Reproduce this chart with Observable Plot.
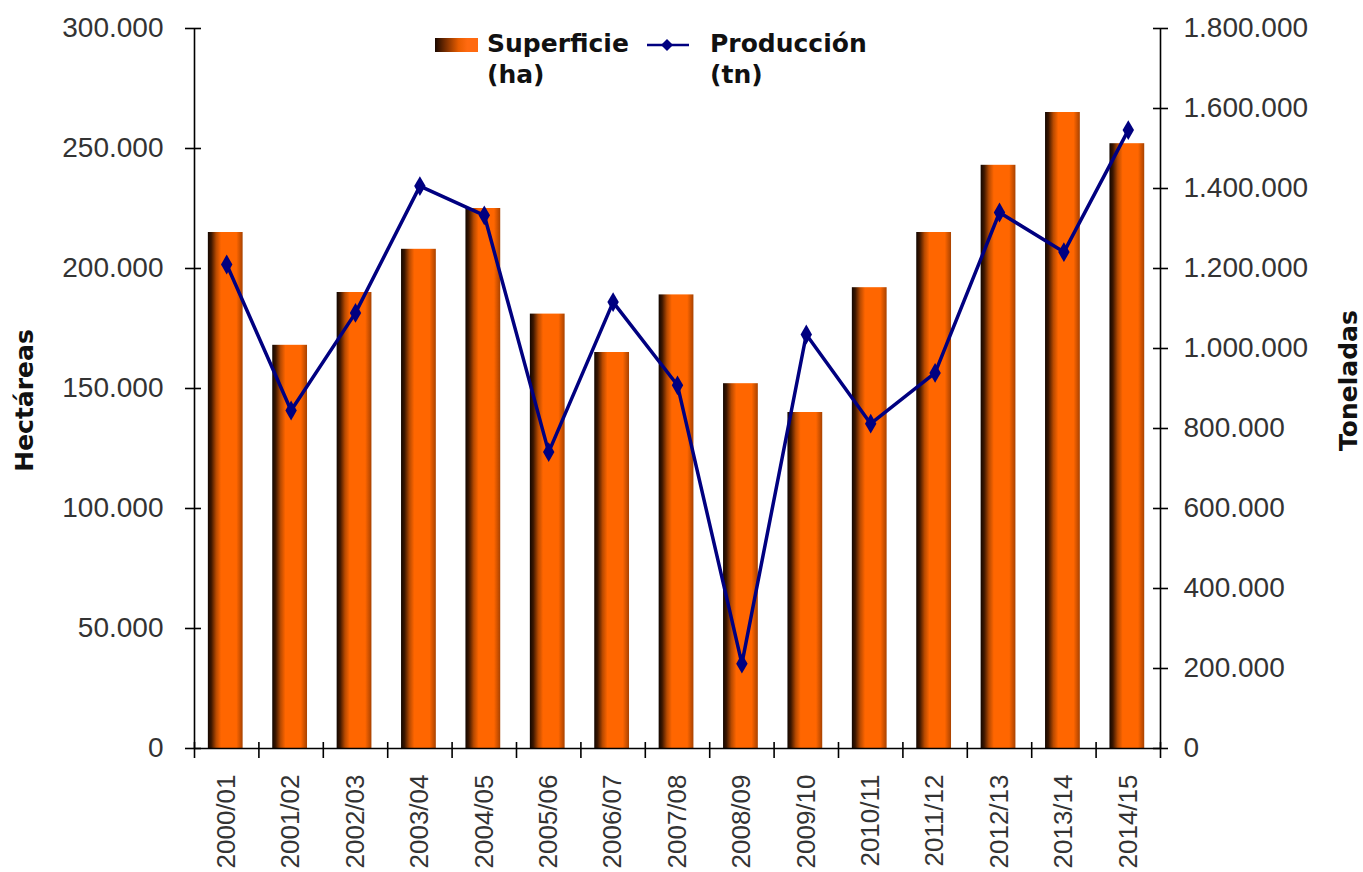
<!DOCTYPE html>
<html>
<head>
<meta charset="utf-8">
<script src="https://cdn.jsdelivr.net/npm/d3@7"></script>
<script src="https://cdn.jsdelivr.net/npm/@observablehq/plot@0.6"></script>
<style>
  html, body { margin: 0; padding: 0; background: #fff; }
  #wrap { position: relative; width: 1363px; height: 872px; overflow: hidden; }
  .legend { position: absolute; font-family: "DejaVu Sans", sans-serif; font-weight: bold; font-size: 25px; line-height: 31px; color: #111; }
</style>
</head>
<body>
<div id="wrap"></div>
<script>
const categories = ["2000/01","2001/02","2002/03","2003/04","2004/05","2005/06","2006/07","2007/08","2008/09","2009/10","2010/11","2011/12","2012/13","2013/14","2014/15"];
const superficie = [215000,168000,190000,208000,225000,181000,165000,189000,152000,140000,192000,215000,243000,265000,252000];
const produccion = [1210000,845000,1089000,1406000,1333000,741000,1116000,908000,212000,1035000,812000,939000,1340000,1241000,1546000];
const haTicks = [0,50000,100000,150000,200000,250000,300000];
const tnTicks = [0,200000,400000,600000,800000,1000000,1200000,1400000,1600000,1800000];
const ratio = 1800000 / 300000;

const data = categories.map((c, i) => ({i, cat: c, ha: superficie[i], tn: produccion[i]}));
const fmt = d3.formatLocale({decimal: ",", thousands: ".", grouping: [3], currency: ["", ""]}).format(",d");
const boundaries = d3.range(categories.length + 1);
const centers = categories.map((c, i) => i + 0.5);
const tickFont = "Liberation Sans, Arial, sans-serif";

const chart = Plot.plot({
  width: 1363,
  height: 872,
  marginLeft: 194,
  marginRight: 203,
  marginTop: 28,
  marginBottom: 124,
  x: {type: "linear", domain: [0, categories.length], axis: null},
  y: {domain: [0, 300000], axis: null},
  style: {fontFamily: tickFont, fontSize: "28px", color: "#333", background: "white", overflow: "visible"},
  marks: [
    Plot.rectY(data, {x1: d => d.i + 0.215, x2: d => d.i + 0.755, y: "ha", fill: "url(#barGrad)"}),
    Plot.line(data, {x: d => d.i + 0.5, y: d => d.tn / ratio, stroke: "#000080", strokeWidth: 3.5}),
    Plot.dot(data, {x: d => d.i + 0.5, y: d => d.tn / ratio, symbol: "diamond", fill: "#000080", r: 6}),
    // axis lines
    Plot.ruleY([0], {stroke: "black", strokeWidth: 1.6}),
    Plot.ruleX([0], {stroke: "black", strokeWidth: 1.6}),
    Plot.ruleX([categories.length], {stroke: "black", strokeWidth: 1.6}),
    // left axis
    Plot.axisY(haTicks, {anchor: "left", tickSize: 9, tickFormat: () => "", stroke: "black", strokeWidth: 1.6, label: null}),
    Plot.axisY(haTicks, {anchor: "left", tickSize: -7, tickFormat: () => "", stroke: "black", strokeWidth: 1.6, label: null}),
    Plot.axisY(haTicks, {anchor: "left", tickSize: 0, tickPadding: 31, tickFormat: fmt, label: null}),
    // right axis
    Plot.axisY(tnTicks.map(t => t / ratio), {anchor: "right", tickSize: 7, tickFormat: () => "", stroke: "black", strokeWidth: 1.6, label: null}),
    Plot.axisY(tnTicks.map(t => t / ratio), {anchor: "right", tickSize: -8, tickFormat: () => "", stroke: "black", strokeWidth: 1.6, label: null}),
    Plot.axisY(tnTicks.map(t => t / ratio), {anchor: "right", tickSize: 0, tickPadding: 23, tickFormat: d => fmt(Math.round(d * ratio)), label: null}),
    // x axis
    Plot.axisX(boundaries, {anchor: "bottom", tickSize: 10, tickFormat: () => "", stroke: "black", strokeWidth: 1.6, label: null}),
    Plot.axisX(boundaries, {anchor: "bottom", tickSize: -6, tickFormat: () => "", stroke: "black", strokeWidth: 1.6, label: null}),
    Plot.axisX(centers, {anchor: "bottom", tickSize: 0, tickPadding: 26, tickRotate: -90, fontSize: 26, tickFormat: d => categories[Math.floor(d)], label: null}),
    // axis titles
    Plot.text(["Hectáreas"], {frameAnchor: "left", textAnchor: "middle", dx: -170, dy: 12, rotate: -90, fontFamily: "DejaVu Sans, sans-serif", fontSize: 25, fontWeight: "bold", fill: "#111", text: d => d}),
    Plot.text(["Toneladas"], {frameAnchor: "right", textAnchor: "middle", dx: 188, dy: -8, rotate: -90, fontFamily: "DejaVu Sans, sans-serif", fontSize: 25, fontWeight: "bold", fill: "#111", text: d => d})
  ]
});

// gradient definitions for cylinder-like bars
const ns = "http://www.w3.org/2000/svg";
const defs = document.createElementNS(ns, "defs");
defs.innerHTML = `
  <linearGradient id="barGrad" x1="0" x2="1" y1="0" y2="0">
    <stop offset="0%" stop-color="#120600"/>
    <stop offset="10%" stop-color="#3d1700"/>
    <stop offset="24%" stop-color="#b84a00"/>
    <stop offset="38%" stop-color="#ff6600"/>
    <stop offset="82%" stop-color="#ff6600"/>
    <stop offset="100%" stop-color="#a84200"/>
  </linearGradient>`;
chart.insertBefore(defs, chart.firstChild);

const wrap = document.getElementById("wrap");
wrap.appendChild(chart);

// legend
const leg1 = document.createElement("div");
leg1.className = "legend";
leg1.style.left = "435px";
leg1.style.top = "28px";
leg1.innerHTML = `<div style="position:absolute;left:0;top:10px;width:43px;height:14px;background:linear-gradient(to right,#1a0800,#7a2e00 25%,#e85d00 55%,#ff6a10 75%,#ff6a10)"></div><div style="margin-left:52px;white-space:nowrap">Superficie<br>(ha)</div>`;
wrap.appendChild(leg1);

const leg2 = document.createElement("div");
leg2.className = "legend";
leg2.style.left = "647px";
leg2.style.top = "28px";
leg2.innerHTML = `<svg style="position:absolute;left:0;top:7px" width="42" height="20"><line x1="0" y1="10" x2="42" y2="10" stroke="#000080" stroke-width="2.5"/><path d="M20,4 L26,10 L20,16 L14,10 Z" fill="#000080"/></svg><div style="margin-left:63px;white-space:nowrap">Producción<br>(tn)</div>`;
wrap.appendChild(leg2);
</script>
</body>
</html>
